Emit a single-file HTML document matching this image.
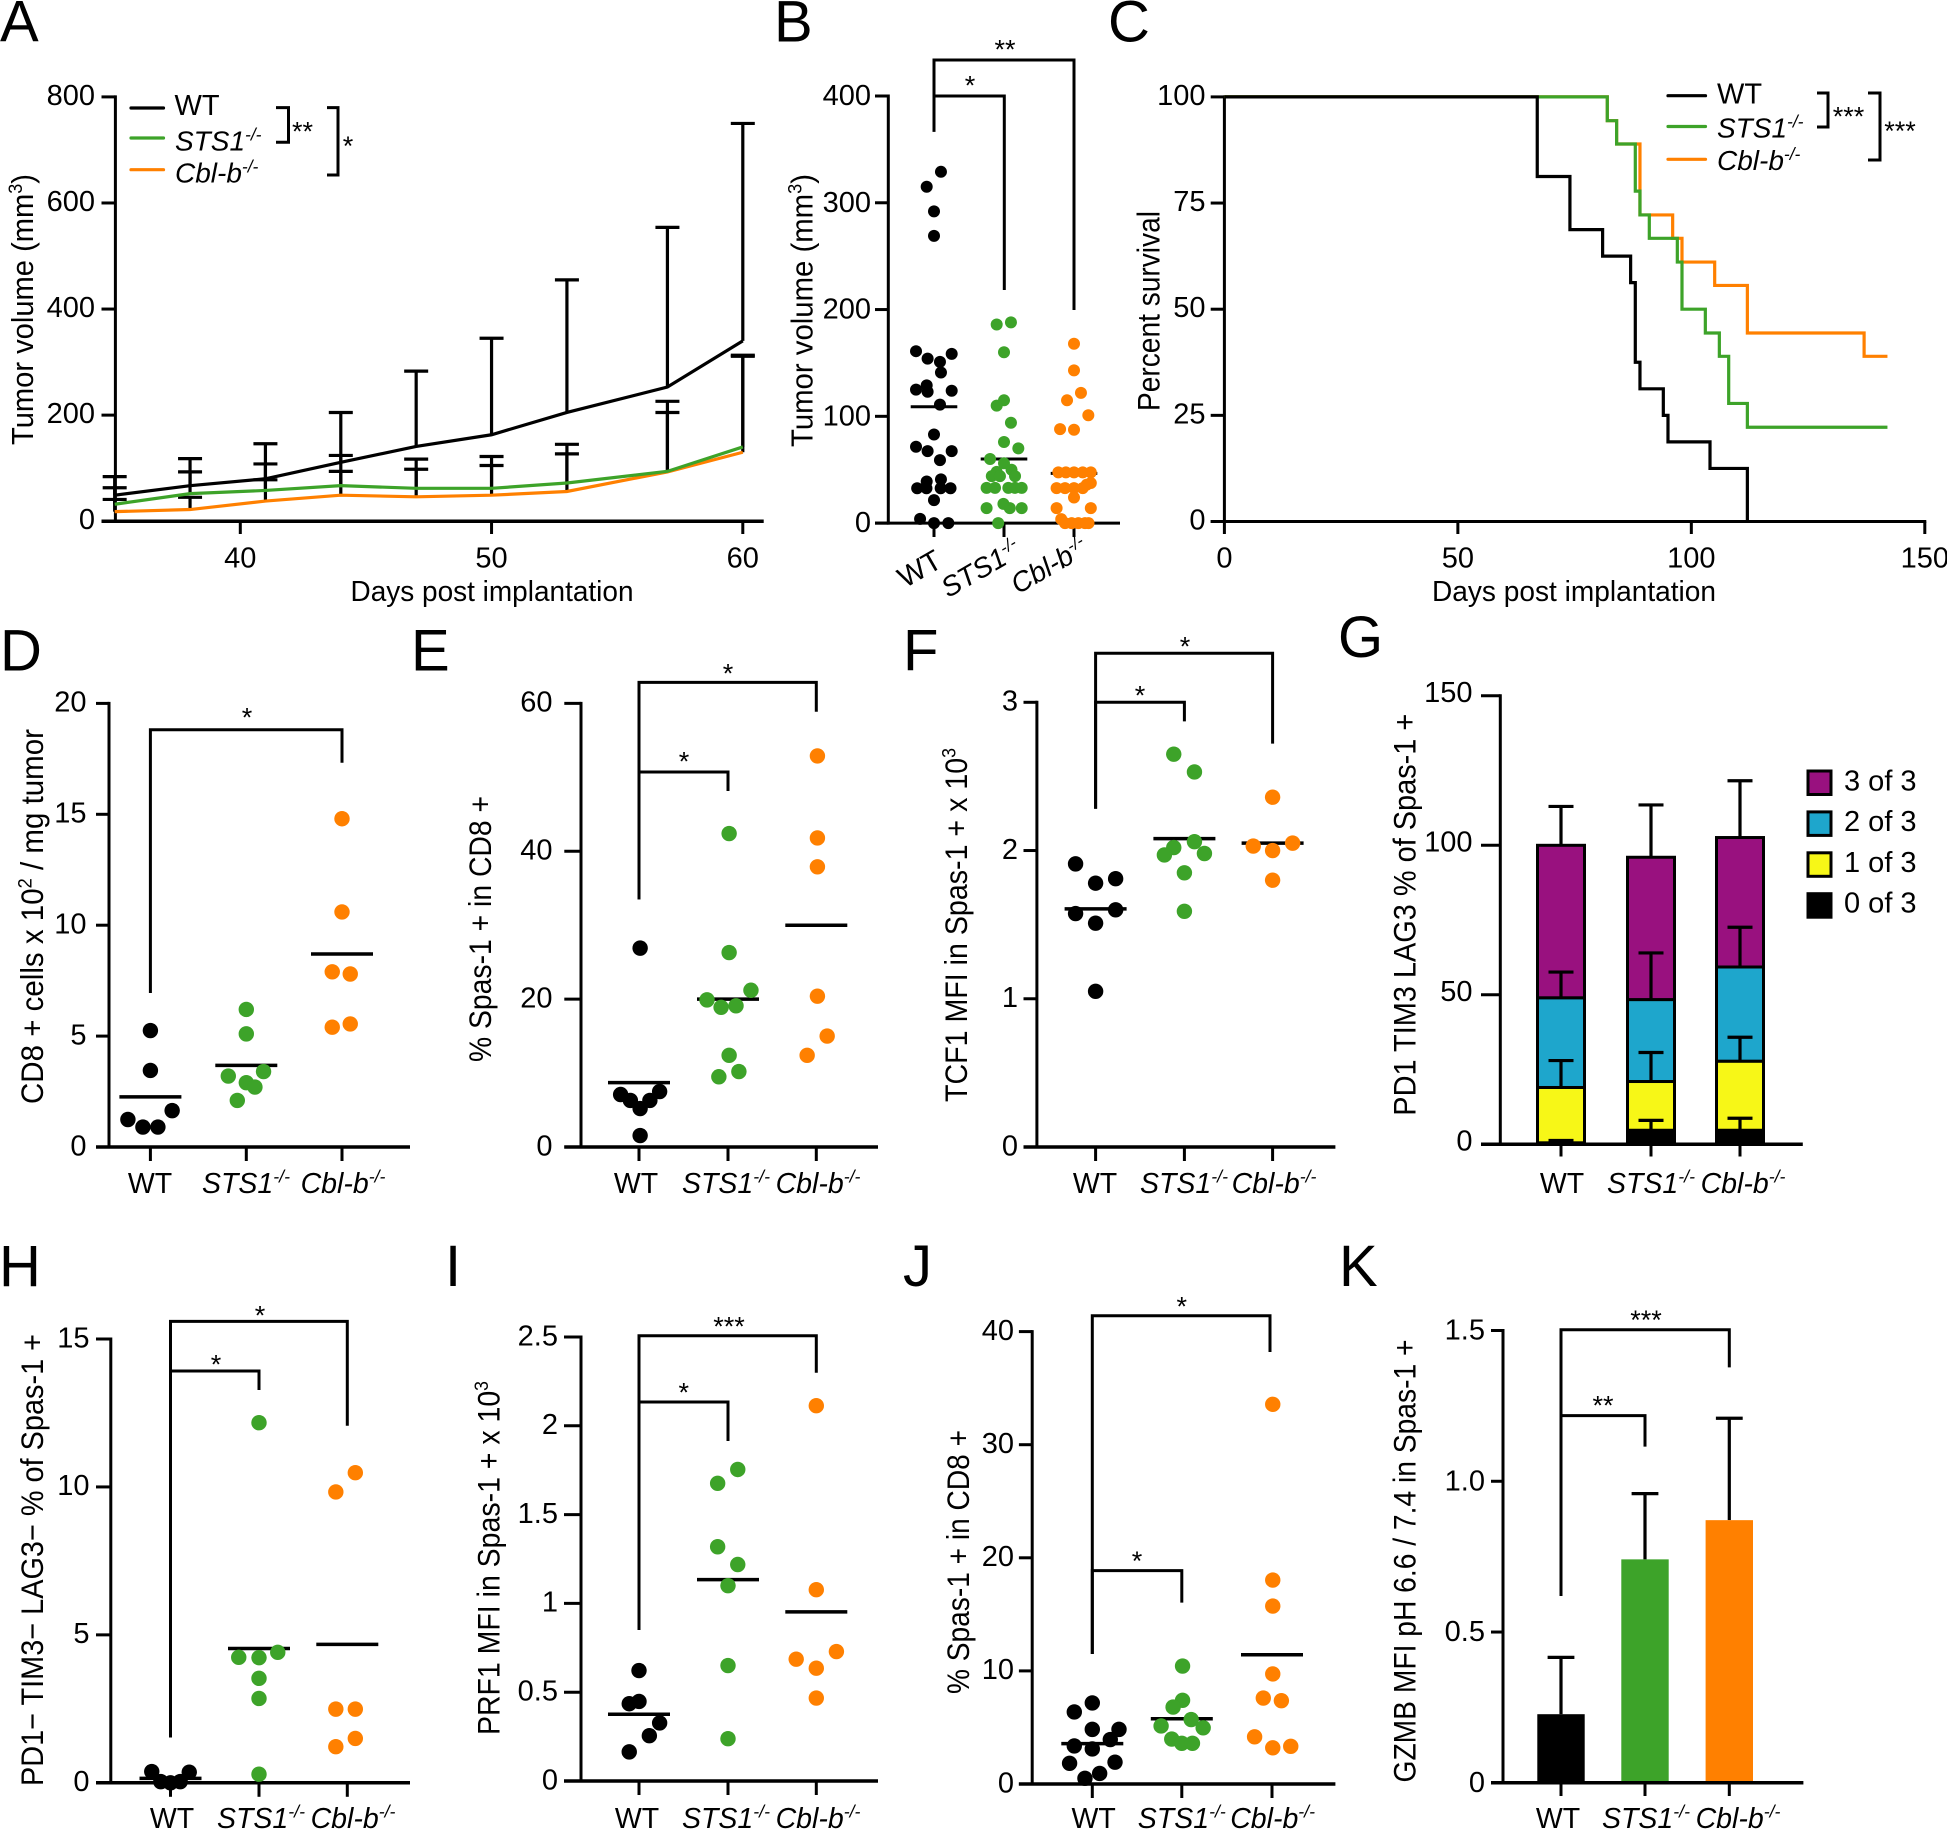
<!DOCTYPE html>
<html lang="en">
<head>
<meta charset="utf-8">
<title>Tumor immune phenotype panels</title>
<style>
html,body{margin:0;padding:0;background:#fff;}
svg{display:block;}
text{font-family:"Liberation Sans",Arial,sans-serif;fill:#000;}
</style>
</head>
<body>
<svg id="figure" xmlns="http://www.w3.org/2000/svg" width="1947" height="1831" viewBox="0 0 1947 1831"></svg>
<script>
/* ---------- shared colours ---------- */
const BLACK = '#000000';
const GREEN = '#3da329';
const ORANGE = '#ff8000';

/* ---------- panel A data ---------- */
const aDays = [35, 38, 41, 44, 47, 50, 53, 57, 60];
const aWtMean = [49, 67, 80, 111, 141, 163, 205, 253, 340];
const aStsMean = [32, 52, 58, 67, 62, 62, 72, 94, 140];
const aCblMean = [18, 22, 38, 49, 46, 49, 56, 93, 130];
const aWtUpper = [84, 118, 146, 205, 283, 345, 455, 554, 750];
const aStsUpper = [63, 93, 108, 124, 117, 122, 145, 226, 313];
const aCblUpper = [41, 45, 78, 94, 98, 105, 127, 205, 311];
const aYTicks = [0, 200, 400, 600, 800];
const aXTicks = [40, 50, 60];

/* ---------- panel B data (swarm = sideways offset in dot radii) ---------- */
const bWt = [329,315,292,269,161,158.5,154,151,141,129,125,124,123,111,83,71.5,67.4,67.4,59,39,41,32.6,32.6,32.6,32.6,21.5,4,0,0];
const bWtSwarm = [1.2,-1.26,0,0,-3.1,3.05,-1.1,1.03,1.2,-1.26,-3.1,3.05,-1.1,1.03,0,-3.1,3.05,-1.1,1.03,-1.26,1.2,-2.9,2.85,-1.3,1.15,0,-2.4,0,2.47];
const bSts = [188,186,160,115,110,94,76,70,60,56,50,48,44,44,44,33,33,33,33,33,18,14,14,14,0];
const bStsSwarm = [1.2,-1.26,0,0,-1.26,1.2,0,2.47,-2.4,0,1.3,-1.26,-2.1,-0.7,1.9,-3,-1.55,0.75,1.9,3.05,-0.1,1,-3,3.05,-1];
const bCbl = [168,143,122,115,101,88,87.4,47.5,47.5,47.5,47.5,47.5,37.5,36,32.8,32.8,32.8,32.8,24,14,14,3.75,0,0,0,0,0];
const bCblSwarm = [0,0,1.2,-1.2,2.47,-2.4,0,-2.7,-1.4,0,1.5,2.9,2.9,2.2,-3,-1.55,0,1.5,0,-3,2.9,-2.2,-1.55,-0.4,0.75,1.9,2.5];
const bMeans = [109, 60, 46.6];
const bYTicks = [0, 100, 200, 300, 400];

/* ---------- panel C data (survival steps) ---------- */
const cWtDays = [0, 67, 74, 81, 87, 88, 89, 94, 95, 104, 112];
const cWtSurvival = [100, 81.25, 68.75, 62.5, 56.25, 37.5, 31.25, 25, 18.75, 12.5, 0];
const cStsDays = [0, 82, 84, 88, 89, 91, 97, 98, 103, 106, 108, 112, 142];
const cStsSurvival = [100, 94.4, 88.9, 77.8, 72.2, 66.7, 61.1, 50, 44.4, 38.9, 27.8, 22.2, 22.2];
const cCblDays = [0, 82, 84, 89, 96, 98, 105, 112, 137, 142];
const cCblSurvival = [100, 94.4, 88.9, 72.2, 66.7, 61.1, 55.6, 44.4, 38.9, 38.9];
const cYTicks = [0, 25, 50, 75, 100];
const cXTicks = [0, 50, 100, 150];

/* ---------- panel D data ---------- */
const dWt = [5.25, 3.45, 1.64, 1.24, 0.9, 0.9];
const dWtSwarm = [0, 0, 2.9, -3, -1, 1];
const dSts = [6.2, 5.1, 3.4, 3.2, 2.9, 2.7, 2.1];
const dStsSwarm = [0, 0, 2.3, -2.4, 0, 1.15, -1.2];
const dCbl = [14.8, 10.6, 7.9, 7.8, 5.55, 5.4];
const dCblSwarm = [0, 0, -1.3, 1.1, 1.1, -1.3];
const dMeans = [2.26, 3.68, 8.7];
const dYTicks = [0, 5, 10, 15, 20];

/* ---------- panel E data ---------- */
const eWt = [26.9, 7.5, 7.1, 6.3, 6.3, 5.2, 1.55];
const eWtSwarm = [0.15, 2.75, -2.45, -1.15, 1.45, 0.15, 0.15];
const eSts = [42.4, 26.3, 21.2, 19.9, 19.1, 18.9, 12.4, 10.2, 9.5];
const eStsSwarm = [0.15, 0.15, 3.06, -2.8, 1.07, -0.92, 0.15, 1.45, -1.22];
const eCbl = [52.9, 41.8, 37.9, 20.4, 15, 12.4];
const eCblSwarm = [0.15, 0.15, 0.15, 0.15, 1.45, -1.22];
const eMeans = [8.7, 20, 30];
const eYTicks = [0, 20, 40, 60];

/* ---------- panel F data ---------- */
const fWt = [1.91, 1.81, 1.78, 1.575, 1.6, 1.51, 1.05];
const fWtSwarm = [-2.67, 2.67, 0, -2.67, 2.67, 0, 0];
const fSts = [2.65, 2.53, 2.06, 2.02, 1.97, 1.98, 1.85, 1.59];
const fStsSwarm = [-1.42, 1.34, 1.34, -1.42, -2.67, 2.67, 0, 0];
const fCbl = [2.36, 2.05, 2.03, 2.0, 1.8];
const fCblSwarm = [0, 2.67, -2.58, 0, 0];
const fMeans = [1.606, 2.08, 2.05];
const fYTicks = [0, 1, 2, 3];

/* ---------- panel G data ---------- */
const gCategories = ['WT', 'STS1', 'Cbl-b'];
const g0of3 = [0.5, 4.7, 4.7];
const g1of3 = [18.5, 16.3, 23.1];
const g2of3 = [30, 27.4, 31.5];
const g3of3 = [51, 47.6, 43.3];
const g0of3Upper = [1.3, 8, 8.7];
const g1of3Upper = [28, 30.7, 35.8];
const g2of3Upper = [57.6, 64, 72.6];
const g3of3Upper = [113, 113.5, 121.6];
const gYTicks = [0, 50, 100, 150];
const gLegend = ['3 of 3', '2 of 3', '1 of 3', '0 of 3'];

/* ---------- panel H data ---------- */
const hWt = [0.38, 0.36, 0.04, 0, 0.04];
const hWtSwarm = [-2.5, 2.5, -1.3, 0, 1.3];
const hSts = [12.17, 4.41, 4.24, 4.23, 3.53, 2.85, 0.29];
const hStsSwarm = [0, 2.5, -2.7, 0, 0, 0, 0];
const hCbl = [10.48, 9.83, 2.49, 2.49, 1.5, 1.22];
const hCblSwarm = [1.07, -1.53, -1.53, 1.07, 1.07, -1.53];
const hMeans = [0.15, 4.54, 4.68];
const hYTicks = [0, 5, 10, 15];

/* ---------- panel I data ---------- */
const iWt = [0.622, 0.448, 0.435, 0.327, 0.255, 0.164];
const iWtSwarm = [0, 0, -1.3, 2.75, 1.38, -1.3];
const iSts = [1.754, 1.676, 1.319, 1.219, 1.1, 0.65, 0.238];
const iStsSwarm = [1.3, -1.38, -1.38, 1.3, 0, 0, 0];
const iCbl = [2.113, 1.077, 0.729, 0.686, 0.635, 0.467];
const iCblSwarm = [0, 0, 2.68, -2.68, 0, 0];
const iMeans = [0.376, 1.134, 0.952];
const iYTicks = [0, 0.5, 1, 1.5, 2, 2.5];

/* ---------- panel J data ---------- */
const jWt = [7.17, 6.37, 4.83, 4.83, 3.93, 3.37, 3.1, 1.93, 1.83, 0.93, 0.5];
const jWtSwarm = [0, -2.4, 0, 3.56, 2.4, -2.4, 0, 3.03, -3.03, 0.98, -0.98];
const jSts = [10.43, 7.4, 6.8, 5.7, 5.13, 4.97, 3.97, 3.6, 3.6];
const jStsSwarm = [0.1, 0.1, -1.16, 1.25, -2.76, 2.85, -1.34, 0, 1.42];
const jCbl = [33.57, 18.03, 15.73, 9.73, 7.6, 7.37, 4.17, 3.33, 3.2];
const jCblSwarm = [0.1, 0.1, 0.1, 0.1, -1.16, 1.25, -2.32, 2.5, 0.1];
const jMeans = [3.57, 5.77, 11.43];
const jYTicks = [0, 10, 20, 30, 40];

/* ---------- panel K data ---------- */
const kValues = [0.2275, 0.741, 0.871];
const kUpper = [0.416, 0.959, 1.209];
const kYTicks = ['0', '0.5', '1.0', '1.5'];

/* ---------- drawing helpers ---------- */
const NS = 'http://www.w3.org/2000/svg';
const root = document.getElementById('figure');
function linear(d0, d1, r0, r1) { return v => r0 + (v - d0) * (r1 - r0) / (d1 - d0); }
function group(parent, name) {
  const el = document.createElementNS(NS, 'g');
  
  
  parent.appendChild(el);
  return el;
}
function line(parent, name, x1, y1, x2, y2, color, width, cap) {
  const el = document.createElementNS(NS, 'line');
  el.setAttribute('x1', x1); el.setAttribute('y1', y1);
  el.setAttribute('x2', x2); el.setAttribute('y2', y2);
  el.setAttribute('stroke', color || BLACK);
  el.setAttribute('stroke-width', width || 3);
  el.setAttribute('stroke-linecap', cap || 'butt');
  
  
  parent.appendChild(el);
  return el;
}
function poly(parent, name, points, color, width) {
  const el = document.createElementNS(NS, 'polyline');
  el.setAttribute('points', points.map(p => p[0].toFixed(2) + ',' + p[1].toFixed(2)).join(' '));
  el.setAttribute('fill', 'none');
  el.setAttribute('stroke', color || BLACK);
  el.setAttribute('stroke-width', width || 3);
  el.setAttribute('stroke-linejoin', 'miter');
  
  
  parent.appendChild(el);
  return el;
}
function dot(parent, name, cx, cy, r, color) {
  const el = document.createElementNS(NS, 'circle');
  el.setAttribute('cx', cx.toFixed(2)); el.setAttribute('cy', cy.toFixed(2));
  el.setAttribute('r', r); el.setAttribute('fill', color);
  
  
  parent.appendChild(el);
  return el;
}
function rect(parent, name, x, y, w, h, fill, stroke, sw) {
  const el = document.createElementNS(NS, 'rect');
  el.setAttribute('x', x.toFixed(2)); el.setAttribute('y', y.toFixed(2));
  el.setAttribute('width', w.toFixed(2)); el.setAttribute('height', Math.max(h, 0).toFixed(2));
  el.setAttribute('fill', fill);
  if (stroke) { el.setAttribute('stroke', stroke); el.setAttribute('stroke-width', sw || 2.5); }
  
  
  parent.appendChild(el);
  return el;
}
/* parts: plain string, or array of {t, sup} pieces */
function label(parent, name, parts, x, y, o) {
  o = o || {};
  const size = o.size || 29;
  const el = document.createElementNS(NS, 'text');
  el.setAttribute('x', x); el.setAttribute('y', y);
  el.setAttribute('font-size', size);
  el.setAttribute('text-anchor', o.anchor || 'middle');
  if (o.italic) el.setAttribute('font-style', 'italic');
  if (o.rotate) el.setAttribute('transform', 'rotate(' + o.rotate + ' ' + x + ' ' + y + ')');
  if (o.length) { el.setAttribute('textLength', o.length); el.setAttribute('lengthAdjust', 'spacingAndGlyphs'); }
  if (typeof parts === 'string') parts = [{ t: parts }];
  let raised = false;
  parts.forEach(p => {
    const ts = document.createElementNS(NS, 'tspan');
    ts.textContent = p.t;
    if (p.sup) { ts.setAttribute('dy', (-0.36 * size).toFixed(1)); ts.setAttribute('font-size', (0.62 * size).toFixed(1)); raised = true; }
    else if (raised) { ts.setAttribute('dy', (0.36 * size).toFixed(1)); raised = false; }
    el.appendChild(ts);
  });
  
  
  parent.appendChild(el);
  return el;
}
function genotypeParts(g) {
  if (g === 'WT') return 'WT';
  return [{ t: g }, { t: '-/-', sup: true }];
}
function star(parent, name, s, x, cy) {
  return label(parent, name, s, x, cy + 13.5, { size: 27 });
}
/* bracket from a shared top bar with two descending legs */
function bracket(parent, name, x1, x2, top, y1, y2) {
  poly(parent, name, [[x1, y1], [x1, top], [x2, top], [x2, y2]], BLACK, 3);
}
function legendBracket(parent, name, x0, x1, y0, y1) {
  poly(parent, name, [[x0, y0], [x1, y0], [x1, y1], [x0, y1]], BLACK, 3);
}
function panelLetter(s, x, y) {
  label(root, 'panel-letter-' + s.toLowerCase(), s, x, y, { size: 58, anchor: 'start' });
}
function yAxis(g, id, o) {
  const y = linear(0, o.max, o.y0, o.yTop);
  line(g, id + '-y-axis', o.x, o.yTop - 1.5, o.x, o.y0 + 1.5, BLACK, 3);
  o.ticks.forEach((t, i) => {
    const v = Number(t);
    line(g, id + '-y-tick', o.tickLeft, y(v), o.x, y(v), BLACK, 3);
    label(g, id + '-y-tick-label', String(t), o.labelRight, y(v) + o.labelDy, { anchor: 'end', size: 29 });
  });
  return y;
}

/* ---------- scatter panel ---------- */
function scatterPanel(c) {
  const g = group(root, 'panel-' + c.id);
  const y = yAxis(g, c.id, { x: c.x, yTop: c.yTop, y0: c.y0, max: c.max, ticks: c.ticks, tickLeft: c.tickLeft, labelRight: c.labelRight, labelDy: c.labelDy });
  line(g, c.id + '-x-axis', c.tickLeft, c.y0, c.xEnd, c.y0, BLACK, 3.5);
  c.cats.forEach((cx, i) => line(g, c.id + '-x-tick', cx, c.y0, cx, c.y0 + 14, BLACK, 3));
  const names = ['WT', 'STS1', 'Cbl-b'];
  const colors = [BLACK, GREEN, ORANGE];
  c.means.forEach((m, i) => line(g, c.id + '-mean-line', c.cats[i] - 31, y(m), c.cats[i] + 31, y(m), BLACK, 3.5));
  c.series.forEach((s, i) => {
    const sg = group(g, c.id + '-series-' + names[i].toLowerCase());
    s[0].forEach((v, k) => dot(sg, c.id + '-dot', c.cats[i] + s[1][k] * 7.5, y(v), c.r, colors[i]));
  });
  c.catLabels.forEach((lx, i) => label(g, c.id + '-x-label', genotypeParts(names[i]), lx, c.labelY, { italic: i > 0, size: 28.5 }));
  c.brackets.forEach(b => bracket(g, c.id + '-significance-bracket', b[0], b[1], b[2], b[3], b[4]));
  c.stars.forEach(s => star(g, c.id + '-significance-stars', s[0], s[1], s[2]));
  label(g, c.id + '-y-title', c.title, c.titleX, c.titleY, { rotate: -90, length: c.titleLen, size: 31.5 });
}

/* ---------- panel letters ---------- */
[['A',0,41.5],['B',774,41.5],['C',1108,41.5],['D',0,670.5],['E',411,670.5],['F',903,670.5],['G',1338,657],
 ['H',-1,1286],['I',445,1286],['J',903,1286],['K',1339,1286]].forEach(p => panelLetter(p[0], p[1], p[2]));

/* ---------- panel A ---------- */
(function () {
  const g = group(root, 'panel-a');
  const yA = yAxis(g, 'a', { x: 115.4, yTop: 96.9, y0: 521.2, max: 800, ticks: aYTicks, tickLeft: 101.5, labelRight: 95, labelDy: 8 });
  const xA = linear(40, 60, 240.3, 742.8);
  line(g, 'a-x-axis', 101.5, 521.2, 763.7, 521.2, BLACK, 3.5);
  aXTicks.forEach(t => {
    line(g, 'a-x-tick', xA(t), 521.2, xA(t), 534, BLACK, 3);
    label(g, 'a-x-tick-label', String(t), xA(t), 567.4, { size: 29 });
  });
  const series = [
    ['wt', aWtMean, aWtUpper, BLACK],
    ['sts1', aStsMean, aStsUpper, GREEN],
    ['cbl-b', aCblMean, aCblUpper, ORANGE]
  ];
  series.slice().reverse().forEach(s => {
    const eg = group(g, 'a-error-bars-' + s[0]);
    aDays.forEach((d, i) => {
      line(eg, 'a-error-stem', xA(d), yA(s[1][i]), xA(d), yA(s[2][i]), BLACK, 3.2);
      line(eg, 'a-error-cap', xA(d) - 12, yA(s[2][i]), xA(d) + 12, yA(s[2][i]), BLACK, 3.2);
    });
  });
  series.slice().reverse().forEach(s => {
    poly(g, 'a-line-' + s[0], aDays.map((d, i) => [xA(d), yA(s[1][i])]), s[3], 3.2);
  });
  label(g, 'a-x-title', 'Days post implantation', 492, 601, { length: 283, size: 28.5 });
  label(g, 'a-y-title', [{ t: 'Tumor volume (mm' }, { t: '3', sup: true }, { t: ')' }], 33, 309.5, { rotate: -90, size: 31, length: 271 });
  const leg = group(g, 'a-legend');
  line(leg, 'a-legend-line-wt', 131, 108, 163.5, 108, BLACK, 3.2, 'round');
  line(leg, 'a-legend-line-sts1', 131, 138, 163.5, 138, GREEN, 3.2, 'round');
  line(leg, 'a-legend-line-cbl-b', 131, 169.7, 163.5, 169.7, ORANGE, 3.2, 'round');
  label(leg, 'a-legend-label-wt', 'WT', 174.5, 115, { anchor: 'start', size: 29 });
  label(leg, 'a-legend-label-sts1', genotypeParts('STS1'), 175, 150.7, { anchor: 'start', size: 28, italic: true });
  label(leg, 'a-legend-label-cbl-b', genotypeParts('Cbl-b'), 175, 182.7, { anchor: 'start', size: 28, italic: true });
  legendBracket(leg, 'a-legend-bracket-sts1', 276, 288.5, 107.6, 142.3);
  star(leg, 'a-legend-stars-sts1', '**', 302.5, 127);
  legendBracket(leg, 'a-legend-bracket-cbl-b', 327, 338, 107.6, 175);
  star(leg, 'a-legend-stars-cbl-b', '*', 348, 141.5);
})();

/* ---------- panel B ---------- */
(function () {
  const g = group(root, 'panel-b');
  const yB = yAxis(g, 'b', { x: 888.3, yTop: 96, y0: 523.1, max: 400, ticks: bYTicks, tickLeft: 875, labelRight: 871, labelDy: 9 });
  line(g, 'b-x-axis', 875, 523.1, 1120, 523.1, BLACK, 3);
  const cats = [934, 1004, 1074];
  const colors = [BLACK, GREEN, ORANGE];
  const swarm = [[bWt, bWtSwarm], [bSts, bStsSwarm], [bCbl, bCblSwarm]];
  cats.forEach(cx => line(g, 'b-x-tick', cx, 523.1, cx, 537, BLACK, 3));
  bMeans.forEach((m, i) => line(g, 'b-mean-line', cats[i] - 23.3, yB(m), cats[i] + 23.3, yB(m), BLACK, 3));
  swarm.forEach((s, i) => {
    const sg = group(g, 'b-series-' + ['wt', 'sts1', 'cbl-b'][i]);
    s[0].forEach((v, k) => dot(sg, 'b-dot', cats[i] + s[1][k] * 5.8, yB(v), 6, colors[i]));
  });
  label(g, 'b-x-label-wt', 'WT', 944, 566, { anchor: 'end', rotate: -30, size: 29 });
  label(g, 'b-x-label-sts1', genotypeParts('STS1'), 1023, 555, { anchor: 'end', rotate: -30, size: 28, italic: true });
  label(g, 'b-x-label-cbl-b', genotypeParts('Cbl-b'), 1090, 553, { anchor: 'end', rotate: -30, size: 28, italic: true });
  bracket(g, 'b-significance-bracket', 934, 1074, 60, 131.7, 310);
  bracket(g, 'b-significance-bracket', 934, 1004.3, 96, 131.7, 290);
  star(g, 'b-significance-stars', '**', 1005, 45);
  star(g, 'b-significance-stars', '*', 970, 81);
  label(g, 'b-y-title', [{ t: 'Tumor volume (mm' }, { t: '3', sup: true }, { t: ')' }], 812.7, 310.5, { rotate: -90, size: 31, length: 273 });
})();

/* ---------- panel C ---------- */
(function () {
  const g = group(root, 'panel-c');
  const yC = yAxis(g, 'c', { x: 1224.4, yTop: 96.9, y0: 521.5, max: 100, ticks: cYTicks, tickLeft: 1210.7, labelRight: 1205.5, labelDy: 8 });
  const xC = linear(0, 150, 1224.4, 1924.8);
  line(g, 'c-x-axis', 1210.7, 521.5, 1926.3, 521.5, BLACK, 3);
  cXTicks.forEach(t => {
    line(g, 'c-x-tick', xC(t), 521.5, xC(t), 534, BLACK, 3);
    label(g, 'c-x-tick-label', String(t), xC(t), 567.4, { size: 29 });
  });
  function steps(days, surv) {
    const pts = [[xC(days[0]), yC(surv[0])]];
    for (let i = 1; i < days.length; i++) {
      pts.push([xC(days[i]), yC(surv[i - 1])]);
      pts.push([xC(days[i]), yC(surv[i])]);
    }
    return pts;
  }
  poly(g, 'c-survival-cbl-b', steps(cCblDays, cCblSurvival), ORANGE, 3.2);
  poly(g, 'c-survival-sts1', steps(cStsDays, cStsSurvival), GREEN, 3.2);
  poly(g, 'c-survival-wt', steps(cWtDays, cWtSurvival), BLACK, 3.2);
  label(g, 'c-x-title', 'Days post implantation', 1574, 601, { length: 284, size: 28.5 });
  label(g, 'c-y-title', 'Percent survival', 1159.5, 311, { rotate: -90, length: 200, size: 31.5 });
  const leg = group(g, 'c-legend');
  line(leg, 'c-legend-line-wt', 1668, 95.7, 1705.5, 95.7, BLACK, 3.2, 'round');
  line(leg, 'c-legend-line-sts1', 1668, 126.5, 1705.5, 126.5, GREEN, 3.2, 'round');
  line(leg, 'c-legend-line-cbl-b', 1668, 159.3, 1705.5, 159.3, ORANGE, 3.2, 'round');
  label(leg, 'c-legend-label-wt', 'WT', 1717, 103.6, { anchor: 'start', size: 29 });
  label(leg, 'c-legend-label-sts1', genotypeParts('STS1'), 1717, 137.6, { anchor: 'start', size: 28, italic: true });
  label(leg, 'c-legend-label-cbl-b', genotypeParts('Cbl-b'), 1717, 170, { anchor: 'start', size: 28, italic: true });
  legendBracket(leg, 'c-legend-bracket-sts1', 1817, 1828, 93, 127);
  star(leg, 'c-legend-stars-sts1', '***', 1848.5, 112);
  legendBracket(leg, 'c-legend-bracket-cbl-b', 1868, 1880, 93, 160);
  star(leg, 'c-legend-stars-cbl-b', '***', 1900, 126.5);
})();

/* ---------- scatter panels D E F H I J ---------- */
scatterPanel({
  id: 'd', x: 109, yTop: 703.4, y0: 1147, max: 20, ticks: dYTicks, tickLeft: 96, labelRight: 86.5, labelDy: 8.3, xEnd: 410,
  cats: [150.4, 246.3, 342], series: [[dWt, dWtSwarm], [dSts, dStsSwarm], [dCbl, dCblSwarm]], means: dMeans, r: 7.7,
  catLabels: [150, 246, 343], labelY: 1193,
  brackets: [[150.4, 342, 729.8, 993, 762.7]], stars: [['*', 247, 713]],
  title: [{ t: 'CD8 + cells x 10' }, { t: '2', sup: true }, { t: ' / mg tumor' }], titleX: 43, titleY: 916.5, titleLen: 375
});
scatterPanel({
  id: 'e', x: 581, yTop: 703.4, y0: 1147, max: 60, ticks: eYTicks, tickLeft: 564.3, labelRight: 552.5, labelDy: 8.3, xEnd: 878,
  cats: [639, 728, 816.3], series: [[eWt, eWtSwarm], [eSts, eStsSwarm], [eCbl, eCblSwarm]], means: eMeans, r: 7.7,
  catLabels: [636, 726, 818], labelY: 1193,
  brackets: [[639, 816.3, 682.4, 899.4, 711.8], [639, 728, 772, 899.4, 791]], stars: [['*', 728, 669], ['*', 684, 757]],
  title: '% Spas-1 + in CD8 +', titleX: 491, titleY: 929, titleLen: 266
});
scatterPanel({
  id: 'f', x: 1036.9, yTop: 702.3, y0: 1147, max: 3, ticks: fYTicks, tickLeft: 1023.5, labelRight: 1018, labelDy: 8.3, xEnd: 1335.4,
  cats: [1095.6, 1184.4, 1272.6], series: [[fWt, fWtSwarm], [fSts, fStsSwarm], [fCbl, fCblSwarm]], means: fMeans, r: 7.7,
  catLabels: [1095, 1184, 1274], labelY: 1193,
  brackets: [[1095.6, 1272.6, 653.3, 808.7, 743.6], [1095.6, 1184.4, 702.3, 808.7, 721.4]], stars: [['*', 1185, 641.8], ['*', 1140, 690.8]],
  title: [{ t: 'TCF1 MFI in Spas-1 + x 10' }, { t: '3', sup: true }], titleX: 966.8, titleY: 925, titleLen: 354
});
scatterPanel({
  id: 'h', x: 110.8, yTop: 1339, y0: 1782.8, max: 15, ticks: hYTicks, tickLeft: 96, labelRight: 89.5, labelDy: 8.3, xEnd: 410,
  cats: [170.5, 259, 347.3], series: [[hWt, hWtSwarm], [hSts, hStsSwarm], [hCbl, hCblSwarm]], means: hMeans, r: 7.7,
  catLabels: [172, 261, 353], labelY: 1828,
  brackets: [[170.5, 347.3, 1321.4, 1737.5, 1425.8], [170.5, 259, 1371, 1737.5, 1390]], stars: [['*', 260, 1311], ['*', 216, 1360]],
  title: 'PD1\u2212 TIM3\u2212 LAG3\u2212 % of Spas-1 +', titleX: 43, titleY: 1560, titleLen: 452
});
scatterPanel({
  id: 'i', x: 581, yTop: 1337, y0: 1781, max: 2.5, ticks: iYTicks, tickLeft: 564, labelRight: 558, labelDy: 8.3, xEnd: 878,
  cats: [639, 728, 816.3], series: [[iWt, iWtSwarm], [iSts, iStsSwarm], [iCbl, iCblSwarm]], means: iMeans, r: 7.7,
  catLabels: [637, 726, 818], labelY: 1828,
  brackets: [[639, 816.3, 1335.7, 1630, 1372.7], [639, 728, 1402, 1630, 1441]], stars: [['***', 729, 1322], ['*', 683.7, 1388]],
  title: [{ t: 'PRF1 MFI in Spas-1 + x 10' }, { t: '3', sup: true }], titleX: 499.4, titleY: 1558, titleLen: 354
});
scatterPanel({
  id: 'j', x: 1032.2, yTop: 1331.6, y0: 1784, max: 40, ticks: jYTicks, tickLeft: 1018.9, labelRight: 1014, labelDy: 8.3, xEnd: 1335.4,
  cats: [1092.3, 1181.8, 1272], series: [[jWt, jWtSwarm], [jSts, jStsSwarm], [jCbl, jCblSwarm]], means: jMeans, r: 7.7,
  catLabels: [1093.6, 1181.8, 1272.6], labelY: 1828,
  brackets: [[1092.3, 1270, 1315.8, 1654, 1352], [1092.3, 1181.8, 1570.6, 1654, 1602.6]], stars: [['*', 1181.8, 1302], ['*', 1137, 1556.6]],
  title: '% Spas-1 + in CD8 +', titleX: 968.8, titleY: 1562, titleLen: 264
});

/* ---------- panel G ---------- */
(function () {
  const g = group(root, 'panel-g');
  const yG = yAxis(g, 'g', { x: 1500.3, yTop: 695.8, y0: 1144.3, max: 150, ticks: gYTicks, tickLeft: 1481, labelRight: 1472.5, labelDy: 6 });
  const cats = [1561, 1651, 1740];
  const layers = [
    ['0-of-3', g0of3, g0of3Upper, BLACK],
    ['1-of-3', g1of3, g1of3Upper, '#f7f717'],
    ['2-of-3', g2of3, g2of3Upper, '#1ea6cc'],
    ['3-of-3', g3of3, g3of3Upper, '#99117f']
  ];
  cats.forEach(cx => line(g, 'g-x-tick', cx, 1144.3, cx, 1156.5, BLACK, 3));
  cats.forEach((cx, i) => {
    let base = 0;
    layers.forEach(l => {
      const top = base + l[1][i];
      rect(g, 'g-bar-' + l[0], cx - 23.5, yG(top), 47, yG(base) - yG(top), l[3], BLACK, 3);
      base = top;
    });
    base = 0;
    layers.forEach(l => {
      const top = base + l[1][i];
      line(g, 'g-error-stem', cx, yG(top), cx, yG(l[2][i]), BLACK, 3.2);
      line(g, 'g-error-cap', cx - 12.5, yG(l[2][i]), cx + 12.5, yG(l[2][i]), BLACK, 3.2);
      base = top;
    });
  });
  line(g, 'g-x-axis', 1481, 1144.3, 1802.8, 1144.3, BLACK, 3.5);
  [1562, 1651, 1743].forEach((lx, i) => label(g, 'g-x-label', genotypeParts(gCategories[i]), lx, 1193, { italic: i > 0, size: 28.5 }));
  label(g, 'g-y-title', 'PD1 TIM3 LAG3 % of Spas-1 +', 1415.5, 914.7, { rotate: -90, length: 402, size: 31.5 });
  const leg = group(g, 'g-legend');
  const fills = ['#99117f', '#1ea6cc', '#f7f717', BLACK];
  gLegend.forEach((t, i) => {
    rect(leg, 'g-legend-swatch', 1808, 771 + i * 40.9, 23, 23.5, fills[i], BLACK, 3);
    label(leg, 'g-legend-label', t, 1844, 790.3 + i * 40.8, { anchor: 'start', size: 29 });
  });
})();

/* ---------- panel K ---------- */
(function () {
  const g = group(root, 'panel-k');
  const yK = yAxis(g, 'k', { x: 1503, yTop: 1330.5, y0: 1782.8, max: 1.5, ticks: kYTicks, tickLeft: 1491, labelRight: 1485, labelDy: 9 });
  const cats = [1561, 1645, 1729.3];
  const colors = [BLACK, GREEN, ORANGE];
  const names = ['WT', 'STS1', 'Cbl-b'];
  cats.forEach(cx => line(g, 'k-x-tick', cx, 1782.8, cx, 1796, BLACK, 3));
  kValues.forEach((v, i) => {
    line(g, 'k-error-stem', cats[i], yK(v), cats[i], yK(kUpper[i]), BLACK, 3.2);
    line(g, 'k-error-cap', cats[i] - 13.4, yK(kUpper[i]), cats[i] + 13.4, yK(kUpper[i]), BLACK, 3.2);
    rect(g, 'k-bar-' + names[i].toLowerCase(), cats[i] - 23.7, yK(v), 47.4, yK(0) - yK(v), colors[i]);
  });
  line(g, 'k-x-axis', 1491, 1782.8, 1803.4, 1782.8, BLACK, 3.5);
  [1558, 1646, 1738].forEach((lx, i) => label(g, 'k-x-label', genotypeParts(names[i]), lx, 1828, { italic: i > 0, size: 28.5 }));
  bracket(g, 'k-significance-bracket', 1561, 1729.3, 1329.7, 1596, 1367.4);
  bracket(g, 'k-significance-bracket', 1561, 1645, 1415.6, 1596, 1446.6);
  star(g, 'k-significance-stars', '***', 1646, 1315.4);
  star(g, 'k-significance-stars', '**', 1603, 1401);
  label(g, 'k-y-title', 'GZMB MFI pH 6.6 / 7.4 in Spas-1 +', 1415.5, 1561, { rotate: -90, length: 443, size: 31.5 });
})();
</script>
</body>
</html>
